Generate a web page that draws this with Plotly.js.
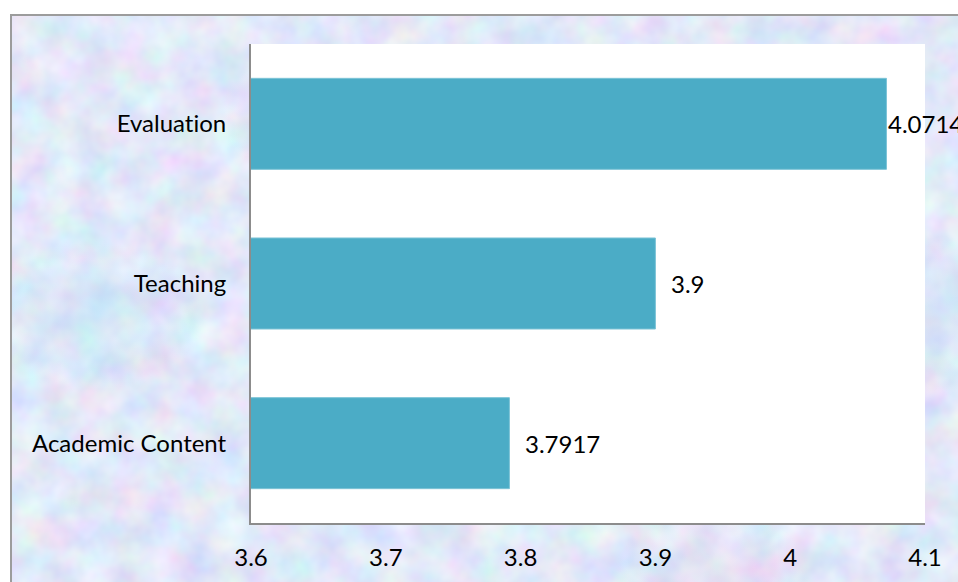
<!DOCTYPE html>
<html>
<head>
<meta charset="utf-8">
<script src="https://cdn.plot.ly/plotly-3.0.1.min.js"></script>
<style>
  html, body { margin: 0; padding: 0; width: 958px; height: 582px; overflow: hidden; background: #ffffff; }
  #frame {
    position: absolute; left: 10px; top: 14px; width: 960px; height: 580px;
    border-top: 2px solid #9c9c9c; border-left: 2px solid #9c9c9c;
    background-color: #c4d2f2;
    background-repeat: no-repeat;
    background-image:
      radial-gradient(ellipse 120px 90px at 290px 100px, rgba(228,194,232,0.35), rgba(228,194,232,0) 70%),
      radial-gradient(ellipse 140px 100px at 700px 560px, rgba(228,194,232,0.3), rgba(228,194,232,0) 70%),
      radial-gradient(ellipse 160px 110px at 80px 300px, rgba(170,222,244,0.35), rgba(170,222,244,0) 70%),
      radial-gradient(ellipse 180px 120px at 900px 300px, rgba(170,222,244,0.35), rgba(170,222,244,0) 70%),
      url("data:image/svg+xml;utf8,<svg xmlns='http://www.w3.org/2000/svg' width='960' height='580'><filter id='n' x='0' y='0' width='100%' height='100%'><feTurbulence type='fractalNoise' baseFrequency='0.03' numOctaves='3' seed='11'/><feColorMatrix values='0.4 0 0 0 0.56  0 0.38 0 0 0.62  0 0 0.22 0 0.83  0 0 0 0 1'/></filter><rect width='960' height='580' filter='url(%23n)'/></svg>");
  }
  #chart { position: absolute; left: 0; top: 0; width: 958px; height: 582px; }
  #chart text { font-variant-ligatures: none; font-feature-settings: "liga" 0; }
</style>
</head>
<body>
<div id="frame"></div>
<div id="chart"></div>
<script>
  // Data (bottom to top)
  const categories = ["Academic Content", "Teaching", "Evaluation"];
  const scores = [3.7917, 3.9, 4.0714];
  const scoreLabels = ["3.7917", "3.9", "4.0714"];
  const xTicks = [3.6, 3.7, 3.8, 3.9, 4.0, 4.1];
  const xTickLabels = ["3.6", "3.7", "3.8", "3.9", "4", "4.1"];

  const FONT = "Lato, 'Open Sans', sans-serif";
  const FS = 24;
  const barColor = "#4bacc6";

  const trace = {
    type: "bar",
    orientation: "h",
    y: categories,
    x: scores,
    marker: { color: barColor, line: { color: "#7cc3d6", width: 1 } },
    width: 0.57,
    hoverinfo: "x+y"
  };

  const annotations = categories.map((c, i) => ({
    x: scores[i],
    y: c,
    xref: "x",
    yref: "y",
    text: scoreLabels[i],
    showarrow: false,
    xanchor: "left",
    yanchor: "middle",
    xshift: scores[i] > 4.05 ? 0 : 14,
    font: { family: FONT, size: FS, color: "#000000" }
  }));

  const layout = {
    width: 958,
    height: 582,
    margin: { l: 251, r: 33, t: 44, b: 59, pad: 0 },
    paper_bgcolor: "rgba(0,0,0,0)",
    plot_bgcolor: "#ffffff",
    showlegend: false,
    bargap: 0.43,
    font: { family: FONT, size: FS, color: "#000000" },
    xaxis: {
      range: [3.6, 4.1],
      tickmode: "array",
      tickvals: xTicks,
      ticktext: xTickLabels,
      showgrid: false,
      zeroline: false,
      showline: true,
      linecolor: "#8c8c8c",
      linewidth: 2,
      ticks: "",
      ticklabelstandoff: 12,
      tickfont: { family: FONT, size: FS, color: "#000000" },
      fixedrange: true
    },
    yaxis: {
      type: "category",
      categoryorder: "array",
      categoryarray: categories,
      showgrid: false,
      zeroline: false,
      showline: true,
      linecolor: "#8c8c8c",
      linewidth: 2,
      ticks: "",
      ticklabelstandoff: 18,
      tickfont: { family: FONT, size: FS, color: "#000000" },
      fixedrange: true
    },
    annotations: annotations
  };

  Plotly.newPlot("chart", [trace], layout, { displayModeBar: false, staticPlot: true });
</script>
</body>
</html>
